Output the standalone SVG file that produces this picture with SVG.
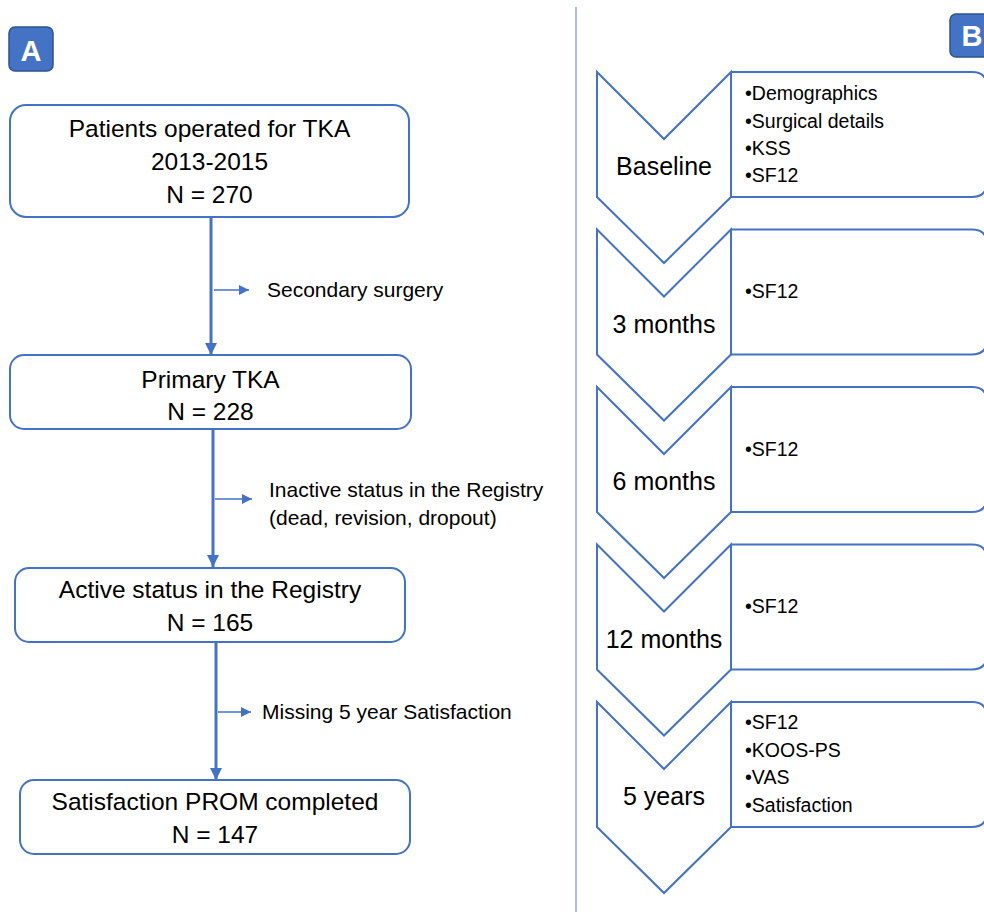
<svg xmlns="http://www.w3.org/2000/svg" width="984" height="912" viewBox="0 0 984 912">
<defs>
<style>
.box{fill:#fff;stroke:#4472C4;stroke-width:2}
.t{font-family:"Liberation Sans",Arial,sans-serif;fill:#000}
.bt{font-size:24.5px;text-anchor:middle}
.side{font-size:21px}
.chev{fill:#fff;stroke:#4472C4;stroke-width:2;stroke-linejoin:miter}
.panel{fill:#fff;stroke:#4472C4;stroke-width:2}
.cl{font-size:25px;text-anchor:middle}
.bl{font-size:19.5px}
.main{stroke:#4472C4;stroke-width:3;fill:none}
.thin{stroke:#4472C4;stroke-width:1.5;fill:none}
.badge{fill:#4472C4;stroke:#2F528F;stroke-width:1.5}
.bx{font-family:"Liberation Sans",Arial,sans-serif;font-weight:bold;font-size:29px;fill:#fff;text-anchor:middle}
</style>
<marker id="ah" viewBox="0 0 10 10" refX="10" refY="5" markerWidth="4" markerHeight="4" markerUnits="strokeWidth" orient="auto">
<path d="M0,0 L10,5 L0,10 Z" fill="#4472C4"/>
</marker>
<marker id="ahs" viewBox="0 0 10 10" refX="10" refY="5" markerWidth="7" markerHeight="7" markerUnits="strokeWidth" orient="auto">
<path d="M0,0 L10,5 L0,10 Z" fill="#4472C4"/>
</marker>
</defs>
<rect width="984" height="912" fill="#fff"/>

<line x1="576" y1="7" x2="576" y2="912" stroke="#8EA9E0" stroke-width="1.5"/>

<g id="label-a">
<rect class="badge" x="9" y="27" width="44" height="44" rx="6"/>
<text class="bx" x="31" y="61">A</text>
</g>
<g id="label-b">
<rect class="badge" x="950" y="14" width="46" height="43" rx="6"/>
<text class="bx" x="972" y="46">B</text>
</g>

<g id="connectors">
<line class="main" x1="211" y1="217" x2="211" y2="355" marker-end="url(#ah)"/>
<line class="thin" x1="214" y1="290" x2="249" y2="290" marker-end="url(#ahs)"/>
<line class="main" x1="213" y1="429" x2="213" y2="567" marker-end="url(#ah)"/>
<line class="thin" x1="215" y1="499" x2="252" y2="499" marker-end="url(#ahs)"/>
<line class="main" x1="216" y1="642" x2="216" y2="780" marker-end="url(#ah)"/>
<line class="thin" x1="218" y1="712" x2="251" y2="712" marker-end="url(#ahs)"/>
</g>

<g id="node-patients">
<rect class="box" x="10" y="105" width="399" height="112" rx="16"/>
<text class="t bt" x="209.5" y="137">Patients operated for TKA</text>
<text class="t bt" x="209.5" y="170">2013-2015</text>
<text class="t bt" x="209.5" y="203">N = 270</text>
</g>
<g id="node-primary">
<rect class="box" x="10" y="355" width="401" height="74" rx="14"/>
<text class="t bt" x="210.5" y="388">Primary TKA</text>
<text class="t bt" x="210.5" y="420">N = 228</text>
</g>
<g id="node-active">
<rect class="box" x="15" y="568" width="390" height="74" rx="14"/>
<text class="t bt" x="210" y="598">Active status in the Registry</text>
<text class="t bt" x="210" y="631">N = 165</text>
</g>
<g id="node-satisfaction">
<rect class="box" x="20" y="780" width="390" height="74" rx="14"/>
<text class="t bt" x="215" y="810">Satisfaction PROM completed</text>
<text class="t bt" x="215" y="843">N = 147</text>
</g>

<g id="label-secondary">
<text class="t side" x="267" y="297">Secondary surgery</text>
</g>
<g id="label-inactive">
<text class="t side" x="269" y="497">Inactive status in the Registry</text>
<text class="t side" x="269" y="525">(dead, revision, dropout)</text>
</g>
<g id="label-missing">
<text class="t side" x="262" y="719">Missing 5 year Satisfaction</text>
</g>

<g id="step-baseline">
<path class="panel" d="M731,72 H972 Q987,72 987,87 V182 Q987,197 972,197 H731"/>
<path class="chev" d="M597,72 L664,139 L731,72 L731,197 L664,263 L597,197 Z"/>
<text class="t cl" x="664" y="175">Baseline</text>
<text class="t bl" x="745" y="100">•Demographics</text>
<text class="t bl" x="745" y="128">•Surgical details</text>
<text class="t bl" x="745" y="155">•KSS</text>
<text class="t bl" x="745" y="182">•SF12</text>
</g>
<g id="step-3months">
<path class="panel" d="M731,229.5 H972 Q987,229.5 987,244.5 V339.5 Q987,354.5 972,354.5 H731"/>
<path class="chev" d="M597,229.5 L664,296.5 L731,229.5 L731,354.5 L664,420.5 L597,354.5 Z"/>
<text class="t cl" x="664" y="333">3 months</text>
<text class="t bl" x="745" y="298">•SF12</text>
</g>
<g id="step-6months">
<path class="panel" d="M731,387 H972 Q987,387 987,402 V497 Q987,512 972,512 H731"/>
<path class="chev" d="M597,387 L664,454 L731,387 L731,512 L664,578 L597,512 Z"/>
<text class="t cl" x="664" y="490">6 months</text>
<text class="t bl" x="745" y="456">•SF12</text>
</g>
<g id="step-12months">
<path class="panel" d="M731,544.5 H972 Q987,544.5 987,559.5 V654.5 Q987,669.5 972,669.5 H731"/>
<path class="chev" d="M597,544.5 L664,611.5 L731,544.5 L731,669.5 L664,735.5 L597,669.5 Z"/>
<text class="t cl" x="664" y="648">12 months</text>
<text class="t bl" x="745" y="613">•SF12</text>
</g>
<g id="step-5years">
<path class="panel" d="M731,702 H972 Q987,702 987,717 V812 Q987,827 972,827 H731"/>
<path class="chev" d="M597,702 L664,769 L731,702 L731,827 L664,893 L597,827 Z"/>
<text class="t cl" x="664" y="805">5 years</text>
<text class="t bl" x="745" y="729">•SF12</text>
<text class="t bl" x="745" y="757">•KOOS-PS</text>
<text class="t bl" x="745" y="784">•VAS</text>
<text class="t bl" x="745" y="812">•Satisfaction</text>
</g>
</svg>
